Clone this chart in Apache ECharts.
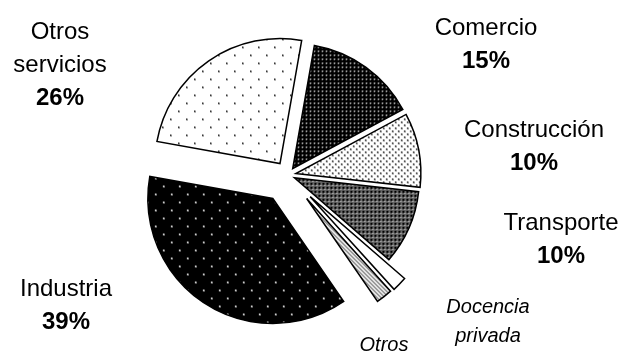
<!DOCTYPE html>
<html>
<head>
<meta charset="utf-8">
<script src="https://cdn.jsdelivr.net/npm/echarts@6/dist/echarts.min.js"></script>
<style>
  html, body { margin: 0; padding: 0; background: #fff; }
  #chart { width: 624px; height: 351px; }
</style>
</head>
<body>
<div id="chart"></div>
<script>
// Sector shares (percent), clockwise from the top
const categories = ['Comercio', 'Construcción', 'Transporte', 'Docencia privada', 'Otros', 'Industria', 'Otros servicios'];
const values = [15, 10, 10, 2, 2.2, 39, 26];
const showValue = [true, true, true, false, false, true, true];

// Layout: explode distance per slice and label anchor per slice
const explode = [8, 8, 7, 31, 30, 28, 14];
const labelPos = [[486, 45], [534, 147], [561, 240], [488, 322], [384, 345], [66, 306], [60, 65]];
const displayNames = ['Comercio', 'Construcción', 'Transporte', 'Docencia\nprivada', 'Otros', 'Industria', 'Otros\nservicios'];

function tile(w, h, draw) {
  const c = document.createElement('canvas');
  c.width = w; c.height = h;
  const g = c.getContext('2d');
  draw(g, w, h);
  return { image: c, repeat: 'repeat' };
}

const patterns = [
  // Comercio: black with dense light dots
  tile(4, 4, (g) => {
    g.fillStyle = '#000'; g.fillRect(0, 0, 4, 4);
    g.fillStyle = '#666'; g.fillRect(1, 1, 2, 1); g.fillRect(1, 2, 1, 1);
    g.fillStyle = '#fff'; g.fillRect(1, 1, 1, 1);
  }),
  // Construcción: white with dense dark dots
  tile(6, 6, (g) => {
    g.fillStyle = '#fff'; g.fillRect(0, 0, 6, 6);
    g.fillStyle = '#888'; g.fillRect(0, 0, 2, 2); g.fillRect(3, 3, 2, 2);
    g.fillStyle = '#111'; g.fillRect(0, 0, 1, 1); g.fillRect(3, 3, 1, 1);
  }),
  // Transporte: dark grey mesh
  tile(4, 4, (g) => {
    g.fillStyle = '#666'; g.fillRect(0, 0, 4, 4);
    g.fillStyle = '#000'; g.fillRect(0, 0, 2, 2);
    g.fillStyle = '#ddd'; g.fillRect(2, 2, 1, 1);
  }),
  // Docencia privada: plain white
  '#ffffff',
  // Otros: diagonal grey stripes
  tile(4, 4, (g) => {
    g.fillStyle = '#fff'; g.fillRect(0, 0, 4, 4);
    g.fillStyle = '#555';
    for (let i = 0; i < 4; i++) g.fillRect(i, i, 1, 1);
    g.fillStyle = '#aaa';
    for (let i = 0; i < 4; i++) g.fillRect((i + 1) % 4, i, 1, 1);
  }),
  // Industria: black with sparse white dots
  tile(16, 16, (g) => {
    g.fillStyle = '#000'; g.fillRect(0, 0, 16, 16);
    g.fillStyle = '#999'; g.fillRect(2, 2, 2, 2); g.fillRect(10, 10, 2, 2);
    g.fillStyle = '#fff'; g.fillRect(2, 2, 1, 1); g.fillRect(10, 10, 1, 1);
  }),
  // Otros servicios: white with sparse black dots
  tile(16, 16, (g) => {
    g.fillStyle = '#fff'; g.fillRect(0, 0, 16, 16);
    g.fillStyle = '#888'; g.fillRect(2, 2, 2, 2); g.fillRect(10, 10, 2, 2);
    g.fillStyle = '#000'; g.fillRect(2, 2, 1, 1); g.fillRect(10, 10, 1, 1);
  })
];

const FONT = '"Liberation Sans", Arial, sans-serif';
const rich = {
  n: { fontFamily: FONT, fontSize: 24, color: '#000', lineHeight: 33, align: 'center' },
  b: { fontFamily: FONT, fontSize: 24, fontWeight: 'bold', color: '#000', lineHeight: 33, align: 'center' },
  it: { fontFamily: FONT, fontSize: 20, fontStyle: 'italic', color: '#000', lineHeight: 29, align: 'center' }
};

// One pie layer per slice so every slice can be pulled out by its own distance;
// all layers share the same values so the angles line up.
const series = categories.map((cat, i) => ({
  type: 'pie',
  center: [288, 175],
  radius: [0, 125],
  startAngle: 80,
  clockwise: true,
  silent: true,
  animation: false,
  selectedMode: 'multiple',
  selectedOffset: explode[i],
  emphasis: { disabled: true },
  label: { show: false },
  labelLine: { show: false },
  data: categories.map((name, j) => (j !== i
    ? { name, value: values[j], itemStyle: { color: 'transparent', borderWidth: 0, borderColor: 'transparent' } }
    : { name, value: values[j], selected: true,
        itemStyle: { color: patterns[j], borderColor: '#000', borderWidth: 1.5, borderJoin: 'miter' } }))
}));

// Category labels, with the share in bold where it is stated
const labels = categories.map((name, j) => {
  const nameLines = displayNames[j].split('\n');
  const text = showValue[j]
    ? nameLines.map((l) => '{n|' + l + '}').join('\n') + '\n{b|' + values[j] + '%}'
    : nameLines.map((l) => '{it|' + l + '}').join('\n');
  return {
    type: 'text',
    x: labelPos[j][0],
    y: labelPos[j][1],
    silent: true,
    style: { text, rich, align: 'center', verticalAlign: 'middle' }
  };
});

const chart = echarts.init(document.getElementById('chart'), null, { renderer: 'canvas' });
chart.setOption({
  backgroundColor: '#ffffff',
  animation: false,
  series,
  graphic: labels
});
</script>
</body>
</html>
